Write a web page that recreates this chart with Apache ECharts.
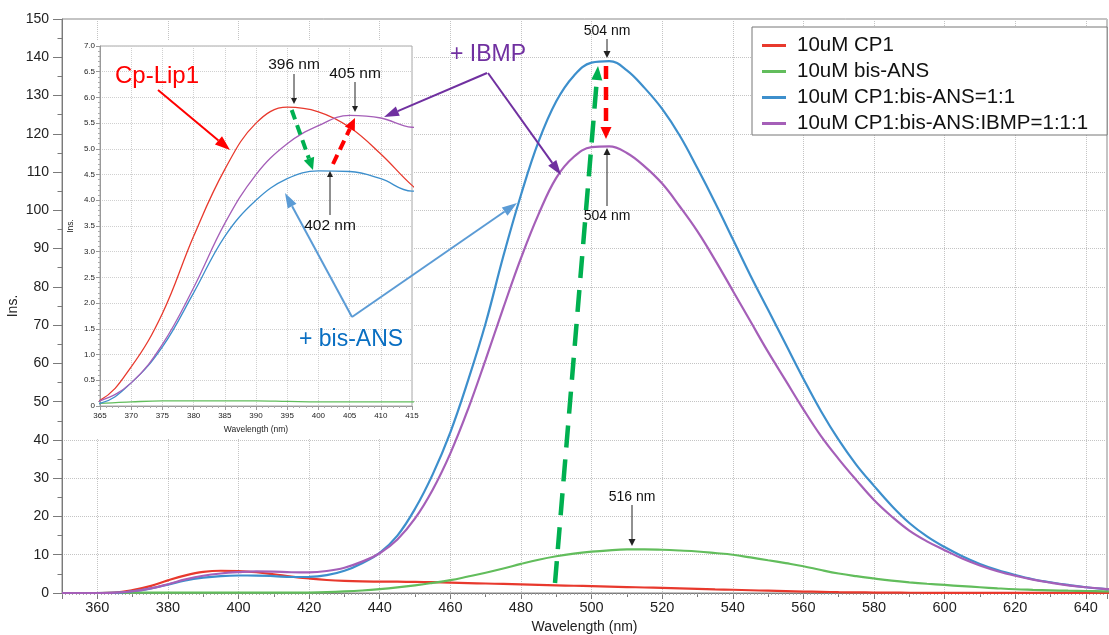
<!DOCTYPE html>
<html><head><meta charset="utf-8">
<script src="https://cdn.jsdelivr.net/npm/echarts@6/dist/echarts.min.js"></script>
<style>html,body{margin:0;padding:0;background:#fff}#c{width:1109px;height:635px}</style>
</head><body><div id="c"></div>
<script>
// ---- data (wavelength in nm, intensity) ----
const wavelengths = [350,355,360,365,370,375,380,385,390,395,400,405,410,415,420,425,430,435,440,445,450,455,460,465,470,475,480,485,490,495,500,505,510,515,520,525,530,535,540,545,550,555,560,565,570,575,580,585,590,595,600,605,610,615,620,625,630,635,640,645,650];
const cp1 = [0,0,0,0.11,0.76,1.8,3.3,4.6,5.5,5.81,5.72, 5.42,4.9,4.29,3.8,3.4,3.15,3.02,2.98,2.95,2.9, 2.82,2.72,2.6,2.48,2.36,2.24,2.12,2.0,1.9,1.8, 1.68,1.56,1.44,1.32,1.2,1.08,0.96,0.85,0.72,0.6, 0.48,0.38,0.3,0.22,0.16,0.12,0.09,0.07,0.05,0.04, 0.03,0.03,0.02,0.02,0.02,0.01,0.01,0.01,0.01,0.01];
const bisANS = [0,0,0,0.05,0.08,0.1,0.1,0.1,0.1,0.09,0.08, 0.08,0.08,0.08,0.12,0.22,0.4,0.65,1.0,1.45,2.0, 2.65,3.35,4.3,5.3,6.4,7.6,8.7,9.6,10.3,10.8, 11.15,11.38,11.42,11.3,11.1,10.85,10.45,10.0,9.3,8.55, 7.8,7.0,6.0,5.1,4.4,3.8,3.25,2.8,2.42,2.1, 1.8,1.5,1.22,0.98,0.83,0.7,0.6,0.52,0.45,0.4];
const cp1BisANS = [0,0,0,0.05,0.45,1.15,2.2,3.3,4.0,4.42,4.57, 4.56,4.42,4.18,4.2,4.65,5.8,7.8,10.5,15,22, 31,42,55.5,70.5,88,104,118,128.5,135.2,138.6, 139.0,136.6,132,126.5,119.5,111,102,92.5,83,74, 65,56,47.5,40,33.5,28,22.8,18.3,14.8,12, 9.6,7.6,6.0,4.7,3.6,2.8,2.1,1.5,1.1,0.8];
const cp1BisANSIBMP = [0,0,0,0.1,0.45,1.2,2.3,3.55,4.5,5.1,5.45, 5.65,5.6,5.42,5.4,5.75,6.6,8.2,10.4,14,19.5, 27,36.5,48,61,74.5,87.5,99,108.5,114,116.5, 116.7,115,111.5,107,101,94.5,87,79,71,63, 55.5,48,41,35,29.5,24.3,20,16.3,13.5,11.2, 9.0,7.2,5.7,4.5,3.5,2.7,2.0,1.5,1.1,0.8];
const seriesNames = ['10uM CP1','10uM bis-ANS','10uM CP1:bis-ANS=1:1','10uM CP1:bis-ANS:IBMP=1:1:1'];
const seriesValues = [cp1, bisANS, cp1BisANS, cp1BisANSIBMP];
const seriesColors = ['#e8392d','#62bd5c','#3d8fcc','#a55fb8'];

const FONT = '"Liberation Sans", Arial, Helvetica, sans-serif';
const chart = echarts.init(document.getElementById('c'), null, {renderer:'canvas'});

const series = [];
seriesValues.forEach((vals, i) => {
  const data = wavelengths.map((w, k) => [w, vals[k]]);
  series.push({
    name: seriesNames[i], type: 'line', xAxisIndex: 0, yAxisIndex: 0, data,
    smooth: 0.4, symbol: 'none', showSymbol: false, clip: true, z: 2,
    lineStyle: {width: 2.2, color: seriesColors[i]}, itemStyle: {color: seriesColors[i]}
  });
});
seriesValues.forEach((vals, i) => {
  const data = wavelengths.map((w, k) => [w, vals[k]]);
  series.push({
    name: seriesNames[i], type: 'line', xAxisIndex: 1, yAxisIndex: 1, data,
    smooth: 0.4, symbol: 'none', showSymbol: false, clip: true, z: 4,
    lineStyle: {width: 1.3, color: seriesColors[i]}, itemStyle: {color: seriesColors[i]}
  });
});

function arrow(x1, y1, x2, y2, color, width, head, headW, dash) {
  const a = Math.atan2(y2 - y1, x2 - x1);
  const bx = x2 - head * Math.cos(a), by = y2 - head * Math.sin(a);
  const px = -Math.sin(a) * headW / 2, py = Math.cos(a) * headW / 2;
  return [
    {type: 'line', z: 10, shape: {x1, y1, x2: bx, y2: by},
     style: {stroke: color, lineWidth: width, lineDash: dash || null}},
    {type: 'polygon', z: 10, shape: {points: [[x2, y2], [bx + px, by + py], [bx - px, by - py]]},
     style: {fill: color}}
  ];
}
function label(text, x, y, size, color, align) {
  return {type: 'text', z: 11, x, y, style: {text, fill: color, fontSize: size, fontFamily: FONT,
    align: align || 'center', verticalAlign: 'middle'}};
}

const graphics = [
  {type: 'rect', z: 1, shape: {x: 63, y: 40, width: 350, height: 398}, style: {fill: '#fff'}},
  label('Cp-Lip1', 115, 76, 24, '#ff0000', 'left'),
  label('+ bis-ANS', 351, 340, 23, '#0a6fc2'),
  label('+ IBMP', 488, 55, 23, '#7030a0'),
  label('396 nm', 294, 65, 15.5, '#111'),
  label('405 nm', 355, 74, 15.5, '#111'),
  label('402 nm', 330, 226, 15.5, '#111'),
  label('504 nm', 607, 31, 14, '#111'),
  label('504 nm', 607, 216, 14, '#111'),
  label('516 nm', 632, 497, 14, '#111'),
  ...arrow(294, 74, 294, 104, '#222', 1, 6, 6),
  ...arrow(355, 82, 355, 112, '#222', 1, 6, 6),
  ...arrow(330, 215, 330, 171, '#222', 1, 6, 6),
  ...arrow(607, 39, 607, 58, '#222', 1, 7, 7),
  ...arrow(607, 206, 607, 148, '#222', 1, 7, 7),
  ...arrow(632, 505, 632, 546, '#222', 1, 7, 7),
  ...arrow(158, 90, 230, 150, '#ff0000', 2, 15, 11),
  ...arrow(352, 317, 285, 193, '#5b9bd5', 2, 15, 10),
  ...arrow(352, 317, 517, 203, '#5b9bd5', 2, 15, 10),
  ...arrow(487, 73, 384, 117, '#7030a0', 2, 15, 10),
  ...arrow(488, 73, 561, 175, '#7030a0', 2, 15, 10),
  ...arrow(291.7, 110, 313, 170, '#00b050', 4, 12, 11, [10, 6]),
  ...arrow(333, 164, 355, 118, '#ff0000', 4, 12, 11, [10, 6]),
  ...arrow(555, 583, 598, 66, '#00b050', 4.5, 14, 11, [22, 12]),
  ...arrow(606, 66, 606, 139, '#ff0000', 4.5, 12, 11, [13, 8])
];

const axisGray = '#7a7a7a';
const option = {
  animation: false,
  backgroundColor: '#fff',
  textStyle: {fontFamily: FONT},
  grid: [
    {left: 62, right: 2, top: 19, bottom: 42, show: true, borderColor: '#888', borderWidth: 1,
     backgroundColor: 'transparent', outerBoundsMode: 'none', containLabel: false},
    {left: 100, right: 697, top: 46, bottom: 229, show: true, borderColor: '#a8a8a8', borderWidth: 1,
     backgroundColor: '#fff', z: 2, outerBoundsMode: 'none', containLabel: false}
  ],
  legend: {
    data: seriesNames, orient: 'vertical', left: 752, top: 27, icon: 'rect',
    itemWidth: 24, itemHeight: 3, itemGap: 5, padding: [8, 19, 1, 10],
    borderColor: '#777', borderWidth: 1, backgroundColor: '#fff', borderRadius: 0,
    textStyle: {fontSize: 20.5, color: '#111', fontFamily: FONT, padding: [0, 0, 0, 6]}
  },
  xAxis: [
    {type: 'value', gridIndex: 0, min: 350, max: 646, splitNumber: 15,
     name: 'Wavelength (nm)', nameLocation: 'middle', nameGap: 27,
     nameTextStyle: {fontSize: 14, color: '#222', fontFamily: FONT},
     axisLine: {show: true, onZero: false, lineStyle: {color: axisGray}},
     axisTick: {show: true, length: 6, lineStyle: {color: axisGray}},
     minorTick: {show: true, splitNumber: 2, length: 4, lineStyle: {color: axisGray}},
     axisLabel: {fontSize: 14.5, color: '#222', margin: 7, fontFamily: FONT, showMinLabel: false, showMaxLabel: false,
       formatter: v => (v % 20 === 0 ? String(v) : '')},
     splitLine: {show: true, lineStyle: {type: 'dotted', color: '#c4c4c4', width: 1}}},
    {type: 'value', gridIndex: 1, min: 365, max: 415, interval: 5, z: 3,
     name: 'Wavelength (nm)', nameLocation: 'middle', nameGap: 17,
     nameTextStyle: {fontSize: 8.5, color: '#222', fontFamily: FONT},
     axisLine: {show: true, onZero: false, lineStyle: {color: '#999'}},
     axisTick: {show: true, length: 4, lineStyle: {color: '#999'}},
     minorTick: {show: true, splitNumber: 5, length: 2, lineStyle: {color: '#aaa'}},
     axisLabel: {fontSize: 8, color: '#222', margin: 6, fontFamily: FONT},
     splitLine: {show: true, lineStyle: {type: 'dotted', color: '#d0d0d0', width: 1}}},
    {type: 'value', gridIndex: 0, min: 350, max: 646, interval: 1,
     axisLine: {show: false}, axisLabel: {show: false}, splitLine: {show: false},
     axisTick: {show: true, inside: true, length: 2, lineStyle: {color: '#999', width: 0.8}}}
  ],
  yAxis: [
    {type: 'value', gridIndex: 0, min: 0, max: 150, interval: 10,
     name: 'Ins.', nameLocation: 'middle', nameGap: 42, nameMoveOverlap: false,
     nameTextStyle: {fontSize: 14, color: '#222', fontFamily: FONT},
     axisLine: {show: true, lineStyle: {color: axisGray}},
     axisTick: {show: true, length: 9, lineStyle: {color: axisGray}},
     minorTick: {show: true, splitNumber: 2, length: 4.5, lineStyle: {color: axisGray}},
     axisLabel: {fontSize: 14, color: '#222', margin: 13, fontFamily: FONT},
     splitLine: {show: true, lineStyle: {type: 'dotted', color: '#c4c4c4', width: 1}}},
    {type: 'value', gridIndex: 1, min: 0, max: 7, interval: 0.5, z: 3,
     name: 'Ins.', nameLocation: 'middle', nameGap: 25,
     nameTextStyle: {fontSize: 8.5, color: '#222', fontFamily: FONT},
     axisLine: {show: true, lineStyle: {color: '#999'}},
     axisTick: {show: true, length: 4, lineStyle: {color: '#999'}},
     minorTick: {show: true, splitNumber: 5, length: 2, lineStyle: {color: '#aaa'}},
     axisLabel: {fontSize: 8, color: '#222', margin: 5, fontFamily: FONT,
       formatter: v => (v === 0 ? '0' : v.toFixed(1))},
     splitLine: {show: true, lineStyle: {type: 'dotted', color: '#d0d0d0', width: 1}}}
  ],
  series,
  graphic: graphics
};
chart.setOption(option);
</script>
</body></html>
